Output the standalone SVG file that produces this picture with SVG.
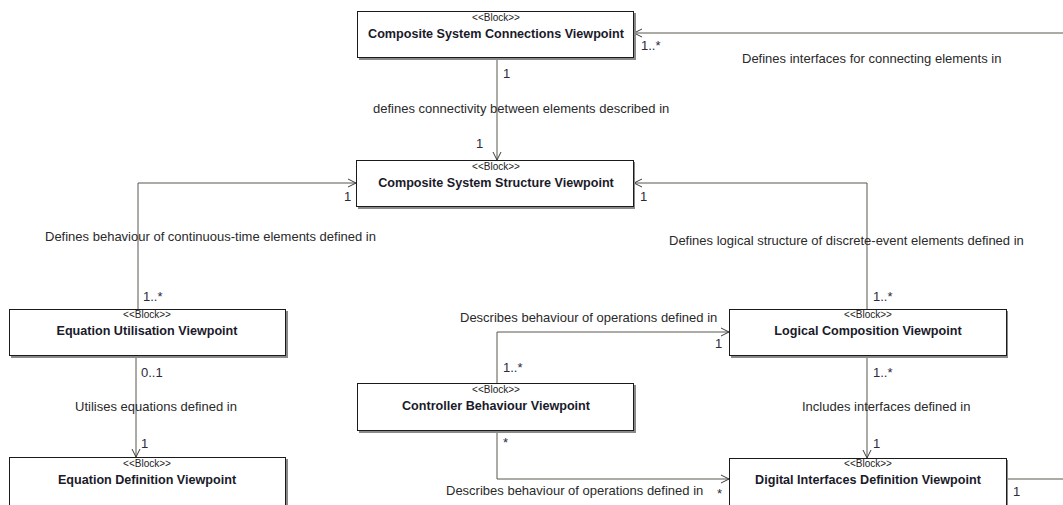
<svg xmlns="http://www.w3.org/2000/svg" width="1063" height="505" viewBox="0 0 1063 505">
  <style>
    .box { fill: #ffffff; stroke: #1a1a1a; stroke-width: 1; }
    .shadow { fill: #8a8a8a; }
    .stereo { font-family: "Liberation Sans", Arial, sans-serif; font-size: 10px; fill: #222; text-anchor: middle; }
    .title { font-family: "Liberation Sans", Arial, sans-serif; font-size: 12.6px; font-weight: bold; fill: #1a1a2a; text-anchor: middle; }
    .lbl { font-family: "Liberation Sans", Arial, sans-serif; font-size: 13px; fill: #2a2a2a; }
    .mult { font-family: "Liberation Sans", Arial, sans-serif; font-size: 13px; fill: #2a2a40; }
    .edge { fill: none; stroke: #5a564c; stroke-width: 1; }
  </style>
  <defs>
    <marker id="open" viewBox="0 0 10 10" refX="9" refY="5" markerWidth="10" markerHeight="10" markerUnits="userSpaceOnUse" orient="auto">
      <path d="M1,1 L9,5 L1,9" fill="none" stroke="#3a3a3a" stroke-width="1"/>
    </marker>
  </defs>
  <rect width="1063" height="505" fill="#ffffff"/>

  <!-- connectors -->
  <g id="connectors">
    <!-- Connections -> Structure -->
    <path class="edge" d="M497,59 L497,160" marker-end="url(#open)"/>
    <text class="mult" x="503" y="78">1</text>
    <text class="mult" x="476" y="148">1</text>
    <text class="lbl" x="373" y="113">defines connectivity between elements described in</text>

    <!-- Digital Interfaces -> Connections (routed off the right edge) -->
    <path class="edge" d="M1063,33 L634,33" marker-end="url(#open)"/>
    <path class="edge" d="M1007,479 L1063,479"/>
    <text class="mult" x="641" y="50">1..*</text>
    <text class="mult" x="1013" y="496">1</text>
    <text class="lbl" x="742" y="63">Defines interfaces for connecting elements in</text>

    <!-- Equation Utilisation -> Structure -->
    <path class="edge" d="M138,309 L138,183 L356,183" marker-end="url(#open)"/>
    <text class="mult" x="344" y="201">1</text>
    <text class="mult" x="143" y="301">1..*</text>
    <text class="lbl" x="45" y="241">Defines behaviour of continuous-time elements defined in</text>

    <!-- Logical Composition -> Structure -->
    <path class="edge" d="M867,309 L867,183 L634,183" marker-end="url(#open)"/>
    <text class="mult" x="640" y="201">1</text>
    <text class="mult" x="873" y="301">1..*</text>
    <text class="lbl" x="669" y="245">Defines logical structure of discrete-event elements defined in</text>

    <!-- Equation Utilisation -> Equation Definition -->
    <path class="edge" d="M136,357 L136,457" marker-end="url(#open)"/>
    <text class="mult" x="141" y="377">0..1</text>
    <text class="mult" x="141" y="448">1</text>
    <text class="lbl" x="75" y="411">Utilises equations defined in</text>

    <!-- Logical Composition -> Digital Interfaces -->
    <path class="edge" d="M867,357 L867,458" marker-end="url(#open)"/>
    <text class="mult" x="873" y="377">1..*</text>
    <text class="mult" x="873" y="448">1</text>
    <text class="lbl" x="802" y="411">Includes interfaces defined in</text>

    <!-- Controller -> Logical Composition -->
    <path class="edge" d="M497,383 L497,332 L729,332" marker-end="url(#open)"/>
    <text class="mult" x="503" y="372">1..*</text>
    <text class="mult" x="715" y="348">1</text>
    <text class="lbl" x="460" y="322">Describes behaviour of operations defined in</text>

    <!-- Controller -> Digital Interfaces -->
    <path class="edge" d="M497,432 L497,479 L729,479" marker-end="url(#open)"/>
    <text class="mult" x="503" y="447">*</text>
    <text class="mult" x="717" y="498">*</text>
    <text class="lbl" x="446" y="495">Describes behaviour of operations defined in</text>
  </g>

  <!-- blocks -->
  <g id="connections-viewpoint">
    <rect class="shadow" x="359" y="13" width="277" height="47"/>
    <rect class="box" x="357.5" y="11.5" width="276" height="46"/>
    <text class="stereo" x="496" y="21">&lt;&lt;Block&gt;&gt;</text>
    <text class="title" x="496" y="38">Composite System Connections Viewpoint</text>
  </g>

  <g id="structure-viewpoint">
    <rect class="shadow" x="358" y="162" width="277" height="47"/>
    <rect class="box" x="356.5" y="160.5" width="277" height="46"/>
    <text class="stereo" x="496" y="170">&lt;&lt;Block&gt;&gt;</text>
    <text class="title" x="496" y="187">Composite System Structure Viewpoint</text>
  </g>

  <g id="equation-utilisation-viewpoint">
    <rect class="shadow" x="11" y="311" width="277" height="47"/>
    <rect class="box" x="9.5" y="309.5" width="276" height="46"/>
    <text class="stereo" x="147" y="318">&lt;&lt;Block&gt;&gt;</text>
    <text class="title" x="147" y="335">Equation Utilisation Viewpoint</text>
  </g>

  <g id="equation-definition-viewpoint">
    <rect class="shadow" x="11" y="459" width="277" height="47"/>
    <rect class="box" x="9.5" y="457.5" width="276" height="50"/>
    <text class="stereo" x="147" y="467">&lt;&lt;Block&gt;&gt;</text>
    <text class="title" x="147" y="484">Equation Definition Viewpoint</text>
  </g>

  <g id="controller-behaviour-viewpoint">
    <rect class="shadow" x="359" y="385" width="277" height="48"/>
    <rect class="box" x="357.5" y="383.5" width="276" height="47"/>
    <text class="stereo" x="496" y="393">&lt;&lt;Block&gt;&gt;</text>
    <text class="title" x="496" y="410">Controller Behaviour Viewpoint</text>
  </g>

  <g id="logical-composition-viewpoint">
    <rect class="shadow" x="731" y="311" width="277" height="47"/>
    <rect class="box" x="729.5" y="309.5" width="277" height="46"/>
    <text class="stereo" x="868" y="318">&lt;&lt;Block&gt;&gt;</text>
    <text class="title" x="868" y="335">Logical Composition Viewpoint</text>
  </g>

  <g id="digital-interfaces-viewpoint">
    <rect class="shadow" x="731" y="460" width="277" height="47"/>
    <rect class="box" x="729.5" y="458.5" width="277" height="50"/>
    <text class="stereo" x="868" y="467">&lt;&lt;Block&gt;&gt;</text>
    <text class="title" x="868" y="484">Digital Interfaces Definition Viewpoint</text>
  </g>
</svg>
